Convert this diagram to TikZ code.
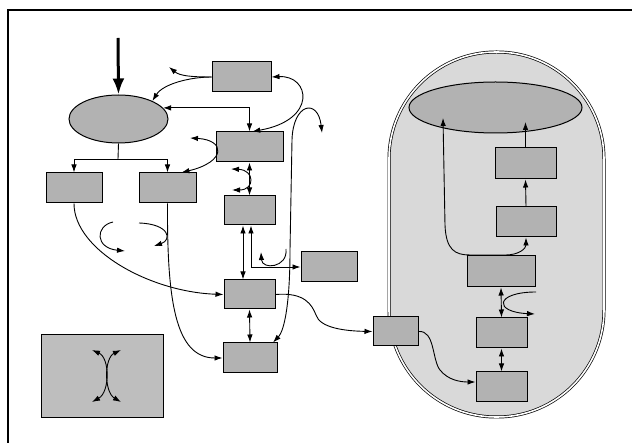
\documentclass[tikz,border=0pt]{standalone}
\usetikzlibrary{arrows.meta,shapes.geometric,calc}
\definecolor{boxfill}{gray}{0.70}
\definecolor{capfill}{gray}{0.85}
\tikzset{
  box/.style={draw, line width=1pt, fill=boxfill, inner sep=0pt, minimum height=30pt},
  oval/.style={draw, line width=1pt, fill=boxfill, ellipse, inner sep=0pt},
  conn/.style={line width=0.9pt, -{Latex[length=8pt,width=5.5pt]}},
  bconn/.style={line width=0.9pt, {Latex[length=8pt,width=5.5pt]}-{Latex[length=8pt,width=5.5pt]}},
  plain/.style={line width=0.9pt},
}
\begin{document}
\begin{tikzpicture}[x=1pt,y=-1pt]
\useasboundingbox (0,0) rectangle (632,443);
% frame
\draw[line width=1.2pt] (8,443) -- (8,10) -- (632,10);
% capsule
\draw[fill=capfill, line width=0.7pt, double distance=1.6pt, rounded corners=107pt] (389,52) rectangle (604,417);
% nodes
\node[oval, minimum width=99pt, minimum height=48pt] (E1) at (118.5,119) {};
\node[oval, minimum width=173pt, minimum height=51pt] (E2) at (495.5,107.5) {};
\node[box, minimum width=59pt] (A) at (241.5,77) {};
\node[box, minimum width=67pt] (B) at (249.5,147) {};
\node[box, minimum width=56pt] (C) at (74,188) {};
\node[box, minimum width=57pt] (D) at (167.5,188) {};
\node[box, minimum width=51pt, minimum height=29pt] (E) at (249.5,210.5) {};
\node[box, minimum width=56pt] (F) at (329,267) {};
\node[box, minimum width=51pt, minimum height=29pt] (G) at (249.5,294.5) {};
\node[box, minimum width=54pt] (H) at (250,358) {};
\node[box, minimum width=122pt, minimum height=83pt, fill=boxfill!85!white] (I) at (102,376.5) {};
\node[box, minimum width=45pt, minimum height=29pt] (J) at (395.5,331.5) {};
\node[box, minimum width=61pt, minimum height=31pt] (K) at (525.5,163.5) {};
\node[box, minimum width=60pt] (L) at (526,222) {};
\node[box, minimum width=68pt, minimum height=31pt] (M) at (501,271.5) {};
\node[box, minimum width=51pt] (N) at (501.5,333) {};
\node[box, minimum width=51pt] (O) at (501.5,387) {};
% free ends
\coordinate (top) at (118,38);
\coordinate (j1) at (118,159);
\coordinate (a1) at (169,67);
\coordinate (x1) at (322,133);
\coordinate (s1) at (190,138);
\coordinate (s2) at (231,169);
\coordinate (s3) at (232,190);
\coordinate (u1) at (286,249);
\coordinate (u2) at (261,252);
\coordinate (c1) at (113,222);
\coordinate (c2) at (125,251);
\coordinate (d1) at (139,223);
\coordinate (d2) at (154,246);
\coordinate (m1) at (536,292);
\coordinate (m2) at (535,314);
\coordinate (e2a) at (443,118);
\coordinate (e2b) at (525.5,122);
\coordinate (i1) at (92,350);
\coordinate (i2) at (92,402);
\coordinate (i3) at (121,350);
\coordinate (i4) at (121,402);
% connectors
\draw[line width=3pt, -{Latex[length=16pt,width=12pt]}] (top) -- (E1.north);
\draw[plain] (E1.south) -- (j1);
\draw[conn] (j1) -| (C.north);
\draw[conn] (j1) -| (D.north);
\draw[bconn] (E1.14) -| (B.north);
\draw[conn] (A.west) .. controls (190,77) and (163,84) .. (E1.28);
\draw[conn] (A.west) .. controls (192,77) and (180,76) .. (a1);
\draw[bconn] (A.east) .. controls (310,75) and (318,120) .. (B.80);
\draw[bconn] (H.34) .. controls (285,330) and (290,300) .. (290,250) -- (292,140) .. controls (293,103) and (318,98) .. (x1);
\draw[bconn] (s1) .. controls (226,140) and (226,162) .. (D.48);
\draw[bconn] (B.south) -- (E.north);
\draw[bconn] (s2) .. controls (255,170) and (255,190) .. (s3);
\draw[bconn] ($(E.south)+(-6.5,0)$) -- ($(G.north)+(-6.5,0)$);
\draw[bconn] ($(E.south)+(1.5,0)$) |- (F.west);
\draw[conn] (u1) .. controls (288,268) and (262,270) .. (u2);
\draw[conn] (C.south) .. controls (74,250) and (150,292) .. (G.west);
\draw[conn] (D.south) .. controls (167,300) and (175,358) .. (H.west);
\draw[conn] (c1) .. controls (95,226) and (95,248) .. (c2);
\draw[conn] (d1) .. controls (170,224) and (172,240) .. (d2);
\draw[bconn] (G.south) -- (H.north);
\draw[conn] (G.east) .. controls (305,292) and (312,305) .. (316,315) .. controls (320,328) and (345,331) .. (J.west);
\draw[conn] (J.east) .. controls (435,330) and (432,360) .. (440,370) .. controls (448,380) and (460,382) .. ($(O.west)+(0,-5)$);
\draw[bconn] (M.south) -- (N.north);
\draw[conn] (m1) .. controls (495,292) and (493,312) .. (m2);
\draw[bconn] (N.south) -- (O.north);
\draw[bconn] (e2a) -- (445,225) .. controls (446,250) and (455,255) .. (470,255) -- (505,255) .. controls (520,255) and (526,248) .. (L.south);
\draw[conn] (L.north) -- (K.south);
\draw[conn] (K.north) -- (e2b);
\draw[bconn] (i1) .. controls (110,358) and (110,392) .. (i2);
\draw[bconn] (i3) .. controls (104,358) and (104,392) .. (i4);
\end{tikzpicture}
\end{document}
